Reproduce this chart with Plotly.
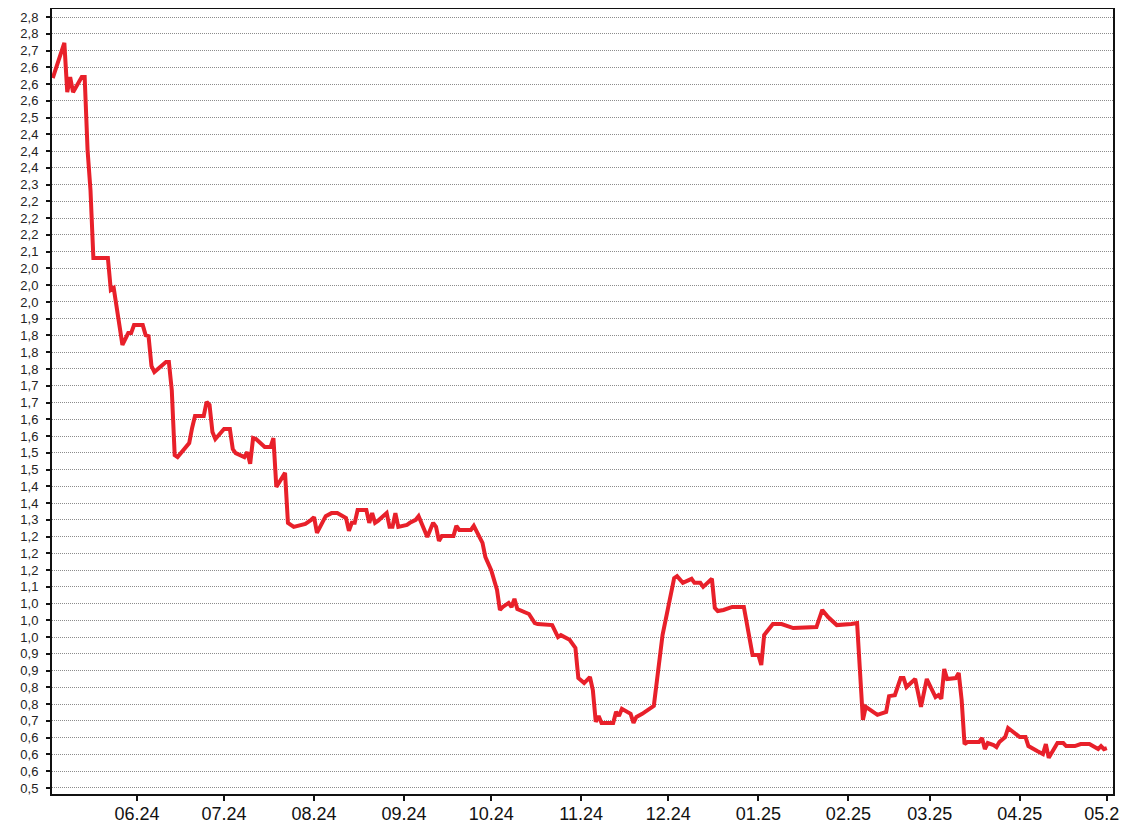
import plotly.graph_objects as go

dates = [
    "2024-05-03", "2024-05-07", "2024-05-08", "2024-05-09", "2024-05-10", "2024-05-13", "2024-05-14",
    "2024-05-15", "2024-05-16", "2024-05-17", "2024-05-22", "2024-05-23", "2024-05-24", "2024-05-27",
    "2024-05-29", "2024-05-30", "2024-05-31", "2024-06-03", "2024-06-04", "2024-06-05", "2024-06-06",
    "2024-06-07", "2024-06-11", "2024-06-12", "2024-06-13", "2024-06-14", "2024-06-15", "2024-06-19",
    "2024-06-20", "2024-06-21", "2024-06-24", "2024-06-25", "2024-06-26", "2024-06-27", "2024-06-28",
    "2024-07-01", "2024-07-03", "2024-07-04", "2024-07-05", "2024-07-08", "2024-07-09", "2024-07-10",
    "2024-07-11", "2024-07-12", "2024-07-15", "2024-07-17", "2024-07-18", "2024-07-19", "2024-07-22",
    "2024-07-23", "2024-07-25", "2024-07-29", "2024-07-31", "2024-08-01", "2024-08-02", "2024-08-05",
    "2024-08-07", "2024-08-09", "2024-08-12", "2024-08-13", "2024-08-14", "2024-08-15", "2024-08-16",
    "2024-08-19", "2024-08-20", "2024-08-21", "2024-08-22", "2024-08-23", "2024-08-26", "2024-08-27",
    "2024-08-28", "2024-08-29", "2024-08-30", "2024-09-02", "2024-09-03", "2024-09-05", "2024-09-06",
    "2024-09-07", "2024-09-09", "2024-09-11", "2024-09-12", "2024-09-13", "2024-09-14", "2024-09-18",
    "2024-09-19", "2024-09-20", "2024-09-24", "2024-09-25", "2024-09-26", "2024-09-28", "2024-09-29",
    "2024-10-01", "2024-10-03", "2024-10-04", "2024-10-05", "2024-10-07", "2024-10-08", "2024-10-09",
    "2024-10-10", "2024-10-14", "2024-10-16", "2024-10-17", "2024-10-22", "2024-10-24", "2024-10-25",
    "2024-10-28", "2024-10-30", "2024-10-31", "2024-11-02", "2024-11-04", "2024-11-05", "2024-11-06",
    "2024-11-07", "2024-11-08", "2024-11-12", "2024-11-13", "2024-11-14", "2024-11-15", "2024-11-18",
    "2024-11-19", "2024-11-20", "2024-11-22", "2024-11-26", "2024-11-27", "2024-11-29", "2024-12-03",
    "2024-12-04", "2024-12-06", "2024-12-09", "2024-12-10", "2024-12-12", "2024-12-13", "2024-12-16",
    "2024-12-17", "2024-12-18", "2024-12-20", "2024-12-23", "2024-12-27", "2024-12-30", "2025-01-01",
    "2025-01-02", "2025-01-03", "2025-01-06", "2025-01-09", "2025-01-13", "2025-01-21", "2025-01-23",
    "2025-01-25", "2025-01-28", "2025-02-02", "2025-02-04", "2025-02-06", "2025-02-07", "2025-02-11",
    "2025-02-14", "2025-02-15", "2025-02-17", "2025-02-19", "2025-02-20", "2025-02-21", "2025-02-24",
    "2025-02-26", "2025-02-28", "2025-03-03", "2025-03-04", "2025-03-05", "2025-03-06", "2025-03-07",
    "2025-03-10", "2025-03-11", "2025-03-12", "2025-03-13", "2025-03-14", "2025-03-18", "2025-03-19",
    "2025-03-20", "2025-03-21", "2025-03-23", "2025-03-24", "2025-03-25", "2025-03-27", "2025-03-28",
    "2025-03-30", "2025-04-01", "2025-04-03", "2025-04-04", "2025-04-07", "2025-04-09", "2025-04-10",
    "2025-04-11", "2025-04-14", "2025-04-16", "2025-04-17", "2025-04-20", "2025-04-22", "2025-04-25",
    "2025-04-28", "2025-04-29", "2025-04-30", "2025-05-01",
]

values = [
    2.618, 2.723, 2.576, 2.621, 2.576, 2.621, 2.621,
    2.403, 2.284, 2.081, 2.081, 1.986, 1.992, 1.822,
    1.857, 1.857, 1.881, 1.881, 1.851, 1.848, 1.759,
    1.741, 1.771, 1.771, 1.687, 1.493, 1.487, 1.529,
    1.574, 1.610, 1.610, 1.652, 1.643, 1.562, 1.541,
    1.571, 1.571, 1.511, 1.499, 1.487, 1.502, 1.467,
    1.544, 1.541, 1.517, 1.517, 1.544, 1.398, 1.440,
    1.291, 1.279, 1.288, 1.300, 1.308, 1.261, 1.311,
    1.320, 1.320, 1.305, 1.267, 1.291, 1.291, 1.329,
    1.329, 1.291, 1.320, 1.291, 1.297, 1.320, 1.279,
    1.279, 1.320, 1.279, 1.285, 1.291, 1.300, 1.311,
    1.291, 1.249, 1.291, 1.279, 1.237, 1.252, 1.252,
    1.282, 1.270, 1.270, 1.282, 1.264, 1.231, 1.189,
    1.150, 1.091, 1.031, 1.040, 1.052, 1.040, 1.064,
    1.034, 1.019, 0.992, 0.989, 0.986, 0.950, 0.956,
    0.942, 0.918, 0.828, 0.813, 0.831, 0.792, 0.697,
    0.715, 0.694, 0.694, 0.727, 0.715, 0.736, 0.721,
    0.694, 0.712, 0.721, 0.745, 0.813, 0.956, 1.126,
    1.132, 1.112, 1.124, 1.112, 1.112, 1.100, 1.124,
    1.037, 1.028, 1.031, 1.040, 1.040, 0.897, 0.897,
    0.867, 0.956, 0.989, 0.989, 0.977, 0.980, 1.031,
    1.010, 0.986, 0.989, 0.992, 0.703, 0.742, 0.718,
    0.727, 0.774, 0.777, 0.828, 0.828, 0.801, 0.825,
    0.742, 0.825, 0.771, 0.777, 0.766, 0.855, 0.825,
    0.828, 0.843, 0.763, 0.631, 0.637, 0.637, 0.649,
    0.616, 0.634, 0.628, 0.622, 0.637, 0.652, 0.679,
    0.667, 0.652, 0.652, 0.625, 0.610, 0.601, 0.631,
    0.590, 0.634, 0.634, 0.625, 0.625, 0.631, 0.631,
    0.616, 0.625, 0.616, 0.619,
]

y_tick_values = [
    0.50, 0.55, 0.60, 0.65, 0.70, 0.75, 0.80, 0.85, 0.90, 0.95,
    1.00, 1.05, 1.10, 1.15, 1.20, 1.25, 1.30, 1.35, 1.40, 1.45,
    1.50, 1.55, 1.60, 1.65, 1.70, 1.75, 1.80, 1.85, 1.90, 1.95,
    2.00, 2.05, 2.10, 2.15, 2.20, 2.25, 2.30, 2.35, 2.40, 2.45,
    2.50, 2.55, 2.60, 2.65, 2.70, 2.75, 2.80,
]
y_tick_labels = [
    "0,5", "0,6", "0,6", "0,6", "0,7", "0,8", "0,8", "0,9", "0,9", "1,0",
    "1,0", "1,0", "1,1", "1,2", "1,2", "1,2", "1,3", "1,4", "1,4", "1,5",
    "1,5", "1,6", "1,6", "1,7", "1,7", "1,8", "1,8", "1,8", "1,9", "2,0",
    "2,0", "2,0", "2,1", "2,2", "2,2", "2,2", "2,3", "2,4", "2,4", "2,4",
    "2,5", "2,6", "2,6", "2,6", "2,7", "2,8", "2,8",
]

x_tick_values = [
    "2024-06-01", "2024-07-01", "2024-08-01", "2024-09-01", "2024-10-01", "2024-11-01",
    "2024-12-01", "2025-01-01", "2025-02-01", "2025-03-01", "2025-04-01", "2025-05-01",
]
x_tick_labels = [
    "06.24", "07.24", "08.24", "09.24", "10.24", "11.24",
    "12.24", "01.25", "02.25", "03.25", "04.25", "05.25",
]

fig = go.Figure()
fig.add_trace(go.Scatter(
    x=dates, y=values, mode="lines",
    line=dict(color="#e8202a", width=4),
    hoverinfo="x+y", showlegend=False,
))

# the page body adds an 8px margin, so the figure is sized 8px smaller
fig.update_layout(
    width=1120, height=828,
    margin=dict(l=44, r=15, t=1, b=42),
    paper_bgcolor="white", plot_bgcolor="white",
    font=dict(family="Liberation Sans, Arial, sans-serif", color="#111"),
)
fig.update_xaxes(
    type="date",
    range=["2024-05-02 18:00", "2025-05-03 03:00"],
    tickmode="array", tickvals=x_tick_values, ticktext=x_tick_labels,
    ticks="outside", ticklen=5, tickwidth=2, tickcolor="#111",
    tickfont=dict(size=18, color="#111"),
    ticklabelstandoff=-3,
    ticklabeloverflow="allow",
    automargin=False,
    showgrid=False, zeroline=False,
    showline=True, linecolor="#111", linewidth=2, mirror=True,
)
fig.update_yaxes(
    range=[0.482, 2.824],
    tickmode="array", tickvals=y_tick_values, ticktext=y_tick_labels,
    ticks="outside", ticklen=4, tickwidth=2, tickcolor="#111",
    tickfont=dict(size=13, color="#222"),
    ticklabelstandoff=5,
    ticklabeloverflow="allow",
    automargin=False,
    showgrid=True, gridcolor="#8c8c8c", gridwidth=1, griddash="1px,1px",
    zeroline=False,
    showline=True, linecolor="#111", linewidth=2, mirror=True,
)

fig.write_html("out.html")
